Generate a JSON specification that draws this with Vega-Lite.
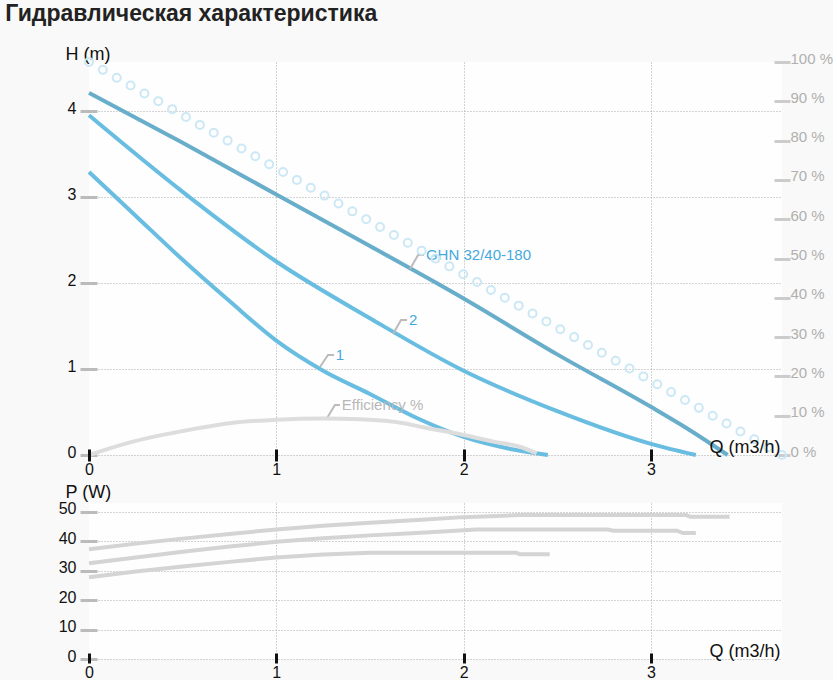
{
  "$schema": "https://vega.github.io/schema/vega-lite/v6.json",
  "background": "#f9f9f9",
  "padding": {"left": 5, "top": 3, "right": 0, "bottom": 0},
  "title": {
    "text": "Гидравлическая характеристика",
    "anchor": "start",
    "frame": "bounds",
    "font": "Liberation Sans",
    "fontSize": 23,
    "fontWeight": "bold",
    "color": "#222222",
    "dx": -53,
    "offset": 19
  },
  "config": {
    "font": "Liberation Sans",
    "view": {"fill": "#fefefe", "stroke": null}
  },
  "datasets": {
    "head": [
      {"series": "GHN 32/40-180", "Q": 0, "H": 4.21},
      {"series": "GHN 32/40-180", "Q": 0.5, "H": 3.63},
      {"series": "GHN 32/40-180", "Q": 1, "H": 3.03},
      {"series": "GHN 32/40-180", "Q": 1.5, "H": 2.43},
      {"series": "GHN 32/40-180", "Q": 2, "H": 1.82},
      {"series": "GHN 32/40-180", "Q": 2.5, "H": 1.17},
      {"series": "GHN 32/40-180", "Q": 3, "H": 0.56},
      {"series": "GHN 32/40-180", "Q": 3.2, "H": 0.3},
      {"series": "GHN 32/40-180", "Q": 3.41, "H": 0},
      {"series": "2", "Q": 0, "H": 3.95},
      {"series": "2", "Q": 0.5, "H": 3.06},
      {"series": "2", "Q": 1, "H": 2.25},
      {"series": "2", "Q": 1.5, "H": 1.59},
      {"series": "2", "Q": 2, "H": 0.98},
      {"series": "2", "Q": 2.5, "H": 0.51},
      {"series": "2", "Q": 3, "H": 0.13},
      {"series": "2", "Q": 3.24, "H": 0},
      {"series": "1", "Q": 0, "H": 3.29},
      {"series": "1", "Q": 0.25, "H": 2.78},
      {"series": "1", "Q": 0.5, "H": 2.27},
      {"series": "1", "Q": 0.75, "H": 1.79},
      {"series": "1", "Q": 1, "H": 1.33},
      {"series": "1", "Q": 1.25, "H": 0.98},
      {"series": "1", "Q": 1.5, "H": 0.71},
      {"series": "1", "Q": 1.75, "H": 0.43},
      {"series": "1", "Q": 2, "H": 0.21},
      {"series": "1", "Q": 2.25, "H": 0.07},
      {"series": "1", "Q": 2.45, "H": 0}
    ],
    "leaders": [
      {"label": "GHN 32/40-180", "Q": 1.714, "H": 2.163},
      {"label": "GHN 32/40-180", "Q": 1.757, "H": 2.326},
      {"label": "GHN 32/40-180", "Q": 1.789, "H": 2.326},
      {"label": "2", "Q": 1.623, "H": 1.407},
      {"label": "2", "Q": 1.666, "H": 1.57},
      {"label": "2", "Q": 1.698, "H": 1.57},
      {"label": "1", "Q": 1.233, "H": 1.023},
      {"label": "1", "Q": 1.276, "H": 1.163},
      {"label": "1", "Q": 1.308, "H": 1.163},
      {"label": "Efficiency %", "Q": 1.271, "H": 0.43},
      {"label": "Efficiency %", "Q": 1.313, "H": 0.581},
      {"label": "Efficiency %", "Q": 1.34, "H": 0.581}
    ],
    "labels": [
      {"label": "GHN 32/40-180", "Q": 1.799, "H": 2.326},
      {"label": "2", "Q": 1.708, "H": 1.57},
      {"label": "1", "Q": 1.318, "H": 1.163},
      {"label": "Efficiency %", "Q": 1.35, "H": 0.581}
    ],
    "efficiency": [
      {"Q": 0, "pct": 0},
      {"Q": 0.21, "pct": 3.1},
      {"Q": 0.5, "pct": 6.1},
      {"Q": 0.75, "pct": 8.1},
      {"Q": 1, "pct": 9.0},
      {"Q": 1.25, "pct": 9.3},
      {"Q": 1.45, "pct": 9.1},
      {"Q": 1.68, "pct": 8.1},
      {"Q": 1.77, "pct": 7.2},
      {"Q": 2, "pct": 5.1},
      {"Q": 2.16, "pct": 3.4},
      {"Q": 2.3, "pct": 2.1},
      {"Q": 2.39, "pct": 0.4}
    ],
    "circles": [
      {"Q": 0, "pct": 100}, {"Q": 0.074, "pct": 98}, {"Q": 0.148, "pct": 96},
      {"Q": 0.222, "pct": 94}, {"Q": 0.296, "pct": 92}, {"Q": 0.37, "pct": 90},
      {"Q": 0.444, "pct": 88}, {"Q": 0.518, "pct": 86}, {"Q": 0.592, "pct": 84},
      {"Q": 0.666, "pct": 82}, {"Q": 0.74, "pct": 80}, {"Q": 0.814, "pct": 78},
      {"Q": 0.888, "pct": 76}, {"Q": 0.962, "pct": 74}, {"Q": 1.036, "pct": 72},
      {"Q": 1.11, "pct": 70}, {"Q": 1.184, "pct": 68}, {"Q": 1.258, "pct": 66},
      {"Q": 1.332, "pct": 64}, {"Q": 1.406, "pct": 62}, {"Q": 1.48, "pct": 60},
      {"Q": 1.554, "pct": 58}, {"Q": 1.628, "pct": 56}, {"Q": 1.702, "pct": 54},
      {"Q": 1.776, "pct": 52}, {"Q": 1.85, "pct": 50}, {"Q": 1.924, "pct": 48},
      {"Q": 1.998, "pct": 46}, {"Q": 2.072, "pct": 44}, {"Q": 2.146, "pct": 42},
      {"Q": 2.22, "pct": 40}, {"Q": 2.294, "pct": 38}, {"Q": 2.368, "pct": 36},
      {"Q": 2.442, "pct": 34}, {"Q": 2.516, "pct": 32}, {"Q": 2.59, "pct": 30},
      {"Q": 2.664, "pct": 28}, {"Q": 2.738, "pct": 26}, {"Q": 2.812, "pct": 24},
      {"Q": 2.886, "pct": 22}, {"Q": 2.96, "pct": 20}, {"Q": 3.034, "pct": 18},
      {"Q": 3.108, "pct": 16}, {"Q": 3.182, "pct": 14}, {"Q": 3.256, "pct": 12},
      {"Q": 3.33, "pct": 10}, {"Q": 3.404, "pct": 8}, {"Q": 3.478, "pct": 6},
      {"Q": 3.552, "pct": 4}, {"Q": 3.626, "pct": 2}, {"Q": 3.7, "pct": 0}
    ],
    "power": [
      {"series": "GHN 32/40-180", "Q": 0, "P": 37.3},
      {"series": "GHN 32/40-180", "Q": 0.25, "P": 39.2},
      {"series": "GHN 32/40-180", "Q": 0.5, "P": 40.9},
      {"series": "GHN 32/40-180", "Q": 0.75, "P": 42.5},
      {"series": "GHN 32/40-180", "Q": 1, "P": 44.0},
      {"series": "GHN 32/40-180", "Q": 1.25, "P": 45.3},
      {"series": "GHN 32/40-180", "Q": 1.5, "P": 46.3},
      {"series": "GHN 32/40-180", "Q": 1.75, "P": 47.2},
      {"series": "GHN 32/40-180", "Q": 2, "P": 48.2},
      {"series": "GHN 32/40-180", "Q": 2.3, "P": 48.9},
      {"series": "GHN 32/40-180", "Q": 2.75, "P": 48.9},
      {"series": "GHN 32/40-180", "Q": 3.19, "P": 48.9},
      {"series": "GHN 32/40-180", "Q": 3.21, "P": 48.3},
      {"series": "GHN 32/40-180", "Q": 3.42, "P": 48.3},
      {"series": "2", "Q": 0, "P": 32.5},
      {"series": "2", "Q": 0.25, "P": 34.5},
      {"series": "2", "Q": 0.5, "P": 36.4},
      {"series": "2", "Q": 0.75, "P": 38.2},
      {"series": "2", "Q": 1, "P": 39.8},
      {"series": "2", "Q": 1.25, "P": 41.0},
      {"series": "2", "Q": 1.5, "P": 42.0},
      {"series": "2", "Q": 1.75, "P": 42.8},
      {"series": "2", "Q": 2.07, "P": 44.0},
      {"series": "2", "Q": 2.77, "P": 44.0},
      {"series": "2", "Q": 2.8, "P": 43.6},
      {"series": "2", "Q": 3.14, "P": 43.6},
      {"series": "2", "Q": 3.17, "P": 42.8},
      {"series": "2", "Q": 3.24, "P": 42.8},
      {"series": "1", "Q": 0, "P": 27.8},
      {"series": "1", "Q": 0.25, "P": 29.7},
      {"series": "1", "Q": 0.5, "P": 31.4},
      {"series": "1", "Q": 0.75, "P": 33.0},
      {"series": "1", "Q": 1, "P": 34.5},
      {"series": "1", "Q": 1.25, "P": 35.5},
      {"series": "1", "Q": 1.5, "P": 36.1},
      {"series": "1", "Q": 2.28, "P": 36.1},
      {"series": "1", "Q": 2.3, "P": 35.6},
      {"series": "1", "Q": 2.46, "P": 35.6}
    ]
  },
  "vconcat": [
    {
      "width": 693,
      "height": 393,
      "layer": [
        {
          "encoding": {
            "x": {
              "field": "Q",
              "type": "quantitative",
              "scale": {"domain": [0, 3.7], "nice": false},
              "axis": {
                "orient": "bottom",
                "values": [1, 2, 3],
                "grid": true,
                "gridColor": "#aaaaaa",
                "gridDash": [1, 2],
                "gridWidth": 1,
                "ticks": false,
                "labels": false,
                "domain": false,
                "title": null,
                "zindex": 0
              }
            },
            "y": {
              "field": "H",
              "type": "quantitative",
              "scale": {"domain": [0, 4.57], "nice": false},
              "axis": {
                "orient": "left",
                "values": [0, 1, 2, 3, 4],
                "grid": true,
                "gridColor": "#aaaaaa",
                "gridDash": [1, 2],
                "gridWidth": 1,
                "domain": false,
                "offset": -8,
                "tickSize": 17,
                "tickWidth": 3,
                "tickColor": "#bbbbbb",
                "labelPadding": 4,
                "labelFontSize": 16,
                "labelColor": "#111111",
                "labelBaseline": "middle",
                "labelOffset": -3,
                "labelFlush": false,
                "title": "H (m)",
                "titleAngle": 0,
                "titleX": -32,
                "titleY": -3,
                "titleAlign": "left",
                "titleBaseline": "alphabetic",
                "titleFontSize": 18,
                "titleFontWeight": "normal",
                "titleColor": "#111111",
                "zindex": 0
              }
            }
          },
          "layer": [
            {
              "data": {"values": [{}]},
              "mark": {"type": "rule", "color": "#b8b8b8", "strokeWidth": 3},
              "encoding": {
                "x": {"datum": 0, "type": "quantitative"},
                "y": {"datum": 0, "type": "quantitative"},
                "y2": {"datum": 4.57}
              }
            },
            {
              "data": {"values": [{}]},
              "mark": {"type": "rule", "color": "#b8b8b8", "strokeWidth": 3},
              "encoding": {
                "y": {"datum": 0, "type": "quantitative"},
                "x": {"datum": 0, "type": "quantitative"},
                "x2": {"datum": 3.7}
              }
            },
            {
              "data": {"name": "head"},
              "mark": {"type": "line", "strokeWidth": 4, "interpolate": "monotone"},
              "encoding": {
                "color": {
                  "field": "series",
                  "type": "nominal",
                  "scale": {"domain": ["GHN 32/40-180", "2", "1"], "range": ["#68aeca", "#68bde0", "#68bde0"]},
                  "legend": null
                }
              }
            },
            {
              "data": {"name": "leaders"},
              "mark": {"type": "line", "strokeWidth": 2, "color": "#bbbbbb"},
              "encoding": {
                "detail": {"field": "label"}
              }
            },
            {
              "data": {"name": "labels"},
              "mark": {"type": "text", "align": "left", "baseline": "middle", "fontSize": 15},
              "encoding": {
                "text": {"field": "label"},
                "color": {
                  "condition": {"test": "datum.label === 'Efficiency %'", "value": "#b8b8b8"},
                  "value": "#45a9df"
                }
              }
            }
          ]
        },
        {
          "encoding": {
            "x": {
              "field": "Q",
              "type": "quantitative",
              "scale": {"domain": [0, 3.7], "nice": false},
              "axis": {
                "orient": "bottom",
                "values": [0, 1, 2, 3],
                "grid": false,
                "domain": false,
                "offset": -6,
                "tickSize": 12,
                "tickWidth": 3,
                "tickColor": "#111111",
                "labelPadding": 0,
                "labelFontSize": 16,
                "labelColor": "#111111",
                "labelFlush": false,
                "title": "Q (m3/h)",
                "titleX": 691,
                "titleY": 3,
                "titleAlign": "right",
                "titleBaseline": "alphabetic",
                "titleFontSize": 18,
                "titleFontWeight": "normal",
                "titleColor": "#111111",
                "zindex": 1
              }
            },
            "y": {
              "field": "pct",
              "type": "quantitative",
              "scale": {"domain": [0, 100], "nice": false},
              "axis": {
                "orient": "right",
                "values": [0, 10, 20, 30, 40, 50, 60, 70, 80, 90, 100],
                "labelExpr": "datum.value + ' %'",
                "grid": false,
                "domain": false,
                "offset": -8,
                "tickSize": 16,
                "tickWidth": 3,
                "tickColor": "#cccccc",
                "labelPadding": 0,
                "labelFontSize": 15,
                "labelColor": "#b0b0b0",
                "labelBaseline": "middle",
                "labelOffset": -4,
                "labelFlush": false,
                "title": null
              }
            }
          },
          "layer": [
            {
              "data": {"name": "circles"},
              "mark": {"type": "point", "filled": false, "size": 64, "strokeWidth": 2, "color": "#cce8f5", "opacity": 1}
            },
            {
              "data": {"name": "efficiency"},
              "mark": {"type": "line", "strokeWidth": 4, "color": "#dddddd", "interpolate": "monotone"}
            }
          ]
        }
      ],
      "resolve": {"scale": {"y": "independent"}, "axis": {"x": "independent", "y": "independent"}}
    },
    {
      "width": 693,
      "height": 156,
      "encoding": {
        "y": {
          "field": "P",
          "type": "quantitative",
          "scale": {"domain": [0, 53], "nice": false},
          "axis": {
            "orient": "left",
            "values": [0, 10, 20, 30, 40, 50],
            "grid": true,
            "gridColor": "#aaaaaa",
            "gridDash": [1, 2],
            "gridWidth": 1,
            "domain": false,
            "offset": -8,
            "tickSize": 17,
            "tickWidth": 3,
            "tickColor": "#bbbbbb",
            "labelPadding": 4,
            "labelFontSize": 16,
            "labelColor": "#111111",
            "labelBaseline": "middle",
            "labelOffset": -3,
            "labelFlush": false,
            "title": "P (W)",
            "titleAngle": 0,
            "titleX": -32,
            "titleY": -6,
            "titleAlign": "left",
            "titleBaseline": "alphabetic",
            "titleFontSize": 18,
            "titleFontWeight": "normal",
            "titleColor": "#111111",
            "zindex": 0
          }
        }
      },
      "layer": [
        {
          "encoding": {
            "x": {
              "field": "Q",
              "type": "quantitative",
              "scale": {"domain": [0, 3.7], "nice": false},
              "axis": {
                "orient": "bottom",
                "values": [1, 2, 3],
                "grid": true,
                "gridColor": "#aaaaaa",
                "gridDash": [1, 2],
                "gridWidth": 1,
                "ticks": false,
                "labels": false,
                "domain": false,
                "title": null,
                "zindex": 0
              }
            }
          },
          "layer": [
            {
              "data": {"values": [{}]},
              "mark": {"type": "rule", "color": "#b8b8b8", "strokeWidth": 3},
              "encoding": {
                "x": {"datum": 0, "type": "quantitative"},
                "y": {"datum": 0, "type": "quantitative"},
                "y2": {"datum": 53}
              }
            },
            {
              "data": {"values": [{}]},
              "mark": {"type": "rule", "color": "#b8b8b8", "strokeWidth": 3},
              "encoding": {
                "y": {"datum": 0, "type": "quantitative"},
                "x": {"datum": 0, "type": "quantitative"},
                "x2": {"datum": 3.7}
              }
            }
          ]
        },
        {
          "data": {"name": "power"},
          "mark": {"type": "line", "strokeWidth": 4, "color": "#d4d4d4"},
          "encoding": {
            "x": {
              "field": "Q",
              "type": "quantitative",
              "scale": {"domain": [0, 3.7], "nice": false},
              "axis": {
                "orient": "bottom",
                "values": [0, 1, 2, 3],
                "grid": false,
                "domain": false,
                "offset": -6,
                "tickSize": 10,
                "tickWidth": 3,
                "tickColor": "#111111",
                "labelPadding": 1,
                "labelFontSize": 16,
                "labelColor": "#111111",
                "labelFlush": false,
                "title": "Q (m3/h)",
                "titleX": 691,
                "titleY": 3,
                "titleAlign": "right",
                "titleBaseline": "alphabetic",
                "titleFontSize": 18,
                "titleFontWeight": "normal",
                "titleColor": "#111111",
                "zindex": 1
              }
            },
            "detail": {"field": "series"}
          }
        }
      ],
      "resolve": {"axis": {"x": "independent"}}
    }
  ],
  "spacing": 48,
  "bounds": "flush"
}
